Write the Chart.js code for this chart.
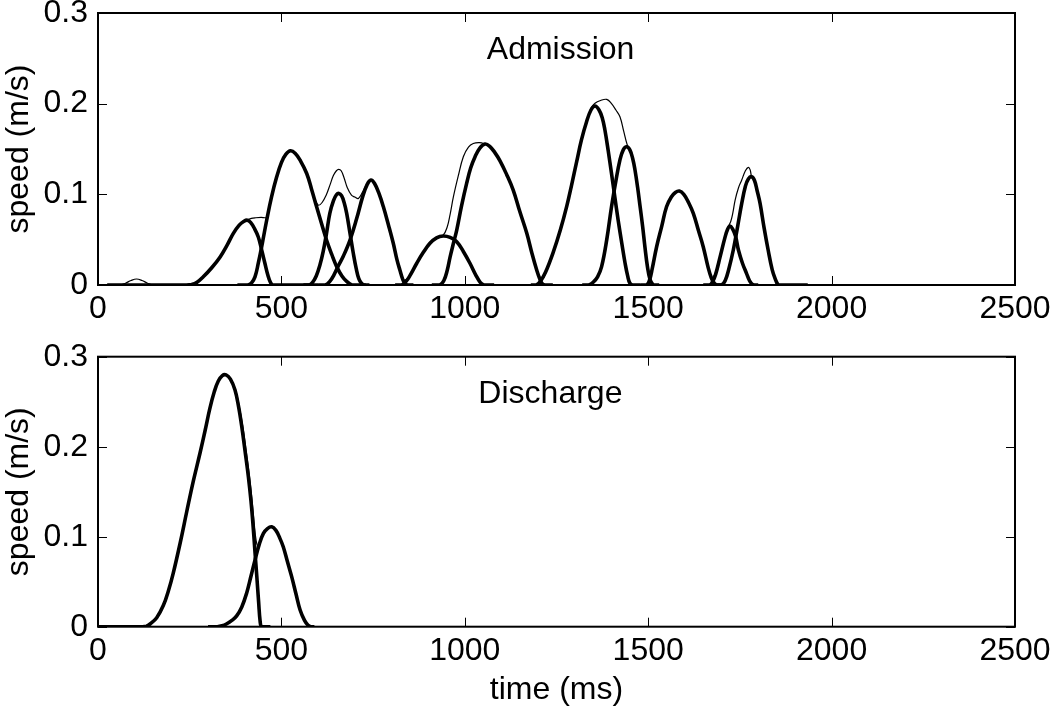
<!DOCTYPE html>
<html>
<head>
<meta charset="utf-8">
<script src="https://cdn.jsdelivr.net/npm/chart.js@4.4.1/dist/chart.umd.min.js"></script>
<style>
  html, body { margin: 0; padding: 0; background: #fff; }
  #wrap { position: relative; width: 1050px; height: 709px; }
  canvas { position: absolute; left: 0; }
  #admission { top: 0; }
  #discharge { top: 330px; }
</style>
</head>
<body>
<div id="wrap">
  <canvas id="admission" width="1050" height="330"></canvas>
  <canvas id="discharge" width="1050" height="379"></canvas>
</div>
<script>
// axis ticks
const timeTicks = [0, 500, 1000, 1500, 2000, 2500];
const speedTicks = [0, 0.1, 0.2, 0.3];

// panel labels and where they sit (ms, m/s)
const panelNames = ["Admission", "Discharge"];
const panelLabelAt = [[1060, 0.249], [1037, 0.249]];

// Admission: measured speed (thin line), [time ms, speed m/s]
const admSpeed = [
  [0, 0], [60, 0], [75, 0.002], [90, 0.005], [105, 0.0066], [120, 0.005], [135, 0.002], [150, 0],
  [255, 0], [270, 0.002], [287, 0.009], [310, 0.019], [333, 0.031], [352, 0.044], [369, 0.057],
  [385, 0.066], [397, 0.070], [407, 0.0718], [418, 0.0735], [430, 0.0742], [445, 0.0745], [455, 0.0742],
  [460, 0.0745], [466, 0.085], [473, 0.097], [487, 0.119], [500, 0.135], [512, 0.144], [525, 0.148],
  [538, 0.145], [552, 0.137], [569, 0.123], [582, 0.106], [592, 0.094], [601, 0.088], [611, 0.091],
  [622, 0.099], [633, 0.111], [642, 0.121], [650, 0.126], [656, 0.1275], [663, 0.126], [671, 0.118],
  [680, 0.107], [691, 0.099], [700, 0.097], [710, 0.0955], [722, 0.103], [734, 0.112], [744, 0.1158],
  [754, 0.112], [766, 0.101], [778, 0.0863], [792, 0.066], [805, 0.046], [815, 0.028], [823, 0.0165],
  [832, 0.006], [840, 0.006], [850, 0.010], [869, 0.024], [887, 0.036], [905, 0.046], [923, 0.052],
  [941, 0.055], [952, 0.064], [960, 0.078], [969, 0.0974], [982, 0.120], [996, 0.1415], [1010, 0.152],
  [1023, 0.156], [1040, 0.157], [1055, 0.1555], [1068, 0.153], [1082, 0.146], [1096, 0.137],
  [1114, 0.122], [1132, 0.1047], [1150, 0.081], [1169, 0.057], [1183, 0.035], [1196, 0.0165],
  [1207, 0.007], [1215, 0.008], [1222, 0.016], [1241, 0.036], [1260, 0.060], [1278, 0.087],
  [1291, 0.110], [1305, 0.136], [1318, 0.160], [1332, 0.180], [1344, 0.195], [1355, 0.2005],
  [1370, 0.2035], [1387, 0.2047], [1400, 0.200], [1412, 0.193], [1423, 0.1856], [1433, 0.170],
  [1443, 0.1544], [1450, 0.149], [1464, 0.1268], [1471, 0.108], [1478, 0.0863], [1485, 0.064],
  [1491, 0.0422], [1497, 0.022], [1502, 0.013], [1506, 0.012], [1511, 0.018], [1523, 0.0422],
  [1537, 0.065], [1550, 0.0863], [1563, 0.097], [1574, 0.102], [1585, 0.1036], [1597, 0.100],
  [1610, 0.091], [1623, 0.079], [1637, 0.060], [1650, 0.0422], [1663, 0.020], [1671, 0.009],
  [1676, 0.008], [1684, 0.014], [1696, 0.031], [1709, 0.052], [1718, 0.064], [1725, 0.070],
  [1731, 0.080], [1737, 0.0937], [1746, 0.107], [1755, 0.1158], [1765, 0.126], [1773, 0.1298],
  [1778, 0.127], [1782, 0.1194], [1790, 0.115], [1797, 0.104], [1805, 0.090], [1816, 0.063],
  [1827, 0.0386], [1838, 0.017], [1846, 0.006], [1853, 0], [1950, 0], [2500, 0]
];

// Admission: fitted submovements (thick lines)
const admA = [[25, 0], [240, 0], [255, 0.0005], [270, 0.003], [287, 0.009], [310, 0.019], [333, 0.031], [352, 0.044], [369, 0.057], [385, 0.066], [397, 0.070], [407, 0.0715], [416, 0.069], [427, 0.062], [437, 0.053], [446, 0.039], [455, 0.024], [463, 0.011], [470, 0.003], [476, 0], [490, 0], [600, 0]];
const admB = [[380, 0], [408, 0], [418, 0.002], [428, 0.009], [437, 0.024], [448, 0.046], [460, 0.0717], [473, 0.097], [487, 0.119], [500, 0.135], [512, 0.144], [525, 0.148], [538, 0.145], [552, 0.137], [569, 0.123], [582, 0.106], [596, 0.0863], [610, 0.067], [623, 0.0496], [637, 0.034], [651, 0.020], [665, 0.010], [678, 0.004], [692, 0], [705, 0], [730, 0]];
const admC = [[560, 0], [575, 0], [585, 0.003], [595, 0.010], [605, 0.022], [614, 0.037], [623, 0.057], [632, 0.079], [642, 0.093], [650, 0.0995], [657, 0.101], [664, 0.0985], [671, 0.091], [678, 0.079], [687, 0.057], [696, 0.035], [704, 0.018], [711, 0.007], [718, 0.002], [725, 0], [740, 0]];
const admD = [[600, 0], [620, 0], [632, 0.004], [643, 0.011], [655, 0.021], [669, 0.032], [687, 0.0496], [705, 0.073], [722, 0.098], [734, 0.111], [744, 0.1158], [754, 0.112], [766, 0.101], [778, 0.0863], [792, 0.066], [805, 0.046], [815, 0.028], [823, 0.0165], [831, 0.006], [838, 0.001], [845, 0], [860, 0]];
const admE = [[810, 0], [828, 0], [840, 0.004], [850, 0.010], [869, 0.024], [887, 0.036], [905, 0.046], [923, 0.052], [941, 0.054], [960, 0.0525], [978, 0.0478], [996, 0.037], [1014, 0.024], [1030, 0.011], [1042, 0.003], [1052, 0], [1065, 0], [1080, 0]];
const admF = [[910, 0], [932, 0], [943, 0.005], [952, 0.016], [960, 0.031], [969, 0.046], [978, 0.0606], [991, 0.087], [1005, 0.112], [1016, 0.129], [1028, 0.1415], [1041, 0.151], [1055, 0.1555], [1068, 0.153], [1082, 0.146], [1096, 0.137], [1114, 0.122], [1132, 0.1047], [1150, 0.081], [1169, 0.057], [1183, 0.035], [1196, 0.0165], [1205, 0.006], [1212, 0.001], [1220, 0], [1240, 0]];
const admG = [[1180, 0], [1195, 0], [1206, 0.004], [1220, 0.014], [1241, 0.036], [1260, 0.060], [1278, 0.087], [1291, 0.110], [1305, 0.136], [1318, 0.160], [1332, 0.180], [1344, 0.193], [1355, 0.1974], [1366, 0.193], [1375, 0.184], [1382, 0.171], [1391, 0.148], [1400, 0.123], [1409, 0.097], [1418, 0.0717], [1428, 0.046], [1437, 0.024], [1444, 0.010], [1450, 0.002], [1457, 0], [1480, 0]];
const admH = [[1320, 0], [1338, 0], [1350, 0.003], [1362, 0.009], [1373, 0.0202], [1387, 0.050], [1400, 0.0863], [1412, 0.115], [1423, 0.138], [1432, 0.149], [1441, 0.1525], [1450, 0.149], [1458, 0.139], [1464, 0.1268], [1471, 0.108], [1478, 0.0863], [1485, 0.064], [1491, 0.0422], [1498, 0.020], [1505, 0.006], [1512, 0.001], [1518, 0], [1530, 0]];
const admI = [[1480, 0], [1496, 0], [1504, 0.006], [1511, 0.018], [1523, 0.0422], [1537, 0.065], [1550, 0.0863], [1563, 0.097], [1574, 0.102], [1585, 0.1036], [1597, 0.100], [1610, 0.091], [1623, 0.079], [1637, 0.060], [1650, 0.0422], [1663, 0.020], [1672, 0.008], [1680, 0.002], [1687, 0], [1700, 0]];
const admJ = [[1650, 0], [1668, 0], [1676, 0.004], [1684, 0.012], [1696, 0.031], [1709, 0.052], [1716, 0.061], [1723, 0.065], [1730, 0.062], [1738, 0.054], [1746, 0.0386], [1757, 0.024], [1768, 0.0129], [1776, 0.005], [1783, 0.001], [1790, 0], [1800, 0]];
const admK = [[1680, 0], [1700, 0], [1710, 0.005], [1720, 0.018], [1732, 0.0386], [1744, 0.065], [1755, 0.090], [1765, 0.109], [1773, 0.117], [1782, 0.1194], [1790, 0.115], [1797, 0.104], [1805, 0.090], [1816, 0.063], [1827, 0.0386], [1838, 0.017], [1846, 0.007], [1853, 0.001], [1860, 0], [1935, 0]];

// Discharge: measured speed (thin line)
const disSpeed = [
  [0, 0], [120, 0], [132, 0.0005], [142, 0.003], [160, 0.010], [178, 0.0235], [192, 0.040], [205, 0.0593], [224, 0.093],
  [242, 0.128], [260, 0.162], [278, 0.1927], [292, 0.218], [305, 0.2425], [317, 0.261], [328, 0.273],
  [339, 0.279], [349, 0.2797], [361, 0.276], [375, 0.263], [386, 0.243], [395, 0.2222], [404, 0.195],
  [413, 0.1667], [420, 0.140], [426, 0.114], [431, 0.096], [436, 0.090], [443, 0.095], [451, 0.1037],
  [462, 0.109], [473.5, 0.111], [485, 0.107], [495, 0.099], [505, 0.0889], [516, 0.073], [528, 0.0556],
  [540, 0.036], [551, 0.0185], [563, 0.007], [572, 0.002], [580, 0], [600, 0], [2500, 0]
];

// Discharge: fitted submovements
const disP = [[0, 0], [120, 0], [132, 0.0005], [142, 0.003], [160, 0.010], [178, 0.0235], [192, 0.040], [205, 0.0593], [224, 0.093], [242, 0.128], [260, 0.162], [278, 0.1927], [292, 0.218], [305, 0.2425], [317, 0.261], [328, 0.273], [339, 0.279], [349, 0.2797], [361, 0.275], [373.5, 0.263], [383, 0.245], [392, 0.2222], [401, 0.195], [410, 0.1667], [417, 0.140], [423, 0.111], [428, 0.083], [433, 0.0556], [438, 0.027], [442, 0.006], [446, 0], [460, 0], [470, 0]];
const disQ = [[300, 0], [325, 0], [338, 0.001], [350, 0.003], [365, 0.007], [378, 0.012], [392, 0.022], [405, 0.037], [417, 0.056], [428, 0.074], [440, 0.092], [451, 0.1037], [462, 0.109], [473.5, 0.111], [485, 0.107], [495, 0.099], [505, 0.0889], [516, 0.073], [528, 0.0556], [540, 0.036], [551, 0.0185], [563, 0.007], [572, 0.002], [580, 0], [590, 0]];

const FONT_FAMILY = "'Liberation Sans', Arial, Helvetica, sans-serif";
const FONT_SIZE = 32;

const toXY = (pts) => pts.map((p) => ({ x: p[0], y: p[1] }));

// box with inward ticks on all four sides, plus the panel label
const matlabBox = (label, at) => ({
  id: "matlabBox",
  afterDatasetsDraw(chart) {
    const { ctx, chartArea: a, scales } = chart;
    ctx.save();
    ctx.strokeStyle = "#000";
    ctx.lineWidth = 1;
    ctx.beginPath();
    scales.x.ticks.forEach((t) => {
      const px = Math.round(scales.x.getPixelForValue(t.value)) + 0.5;
      ctx.moveTo(px, a.bottom); ctx.lineTo(px, a.bottom - 9);
      ctx.moveTo(px, a.top); ctx.lineTo(px, a.top + 9);
    });
    scales.y.ticks.forEach((t) => {
      const py = Math.round(scales.y.getPixelForValue(t.value)) + 0.5;
      ctx.moveTo(a.left, py); ctx.lineTo(a.left + 9, py);
      ctx.moveTo(a.right, py); ctx.lineTo(a.right - 9, py);
    });
    ctx.stroke();
    ctx.lineWidth = 2;
    ctx.strokeRect(a.left, a.top, a.right - a.left, a.bottom - a.top);

    ctx.fillStyle = "#000";
    ctx.font = FONT_SIZE + "px " + FONT_FAMILY;
    ctx.textAlign = "left";
    ctx.textBaseline = "alphabetic";
    ctx.fillText(label, scales.x.getPixelForValue(at[0]), scales.y.getPixelForValue(at[1]));
    ctx.restore();
  }
});

function makePanel(canvasId, label, at, speed, subs, padTop, xHeight, xTitle) {
  const font = { family: FONT_FAMILY, size: FONT_SIZE };
  const datasets = [{ data: toXY(speed), borderWidth: 1.2 }]
    .concat(subs.map((s) => ({ data: toXY(s), borderWidth: 3.6 })));
  datasets.forEach((d) => {
    d.borderColor = "#000";
    d.pointRadius = 0;
    d.fill = false;
    d.tension = 0.4;
    d.borderJoinStyle = "round";
  });

  return new Chart(document.getElementById(canvasId), {
    type: "line",
    data: { datasets: datasets },
    options: {
      responsive: false,
      animation: false,
      devicePixelRatio: 1,
      layout: { padding: { top: padTop, right: 35, left: 0, bottom: 0 } },
      plugins: { legend: { display: false }, tooltip: { enabled: false } },
      scales: {
        x: {
          type: "linear",
          min: 0,
          max: 2500,
          afterBuildTicks: (s) => { s.ticks = timeTicks.map((v) => ({ value: v })); },
          afterFit: (s) => { s.height = xHeight; s.paddingLeft = 0; s.paddingRight = 0; },
          ticks: { font: font, color: "#000", padding: 5, autoSkip: false, maxRotation: 0, callback: (v) => String(v) },
          grid: { display: false, drawTicks: false },
          border: { display: false },
          title: { display: !!xTitle, text: xTitle || "", font: font, color: "#000", padding: { top: 0, bottom: 0 } }
        },
        y: {
          type: "linear",
          min: 0,
          max: 0.3,
          afterBuildTicks: (s) => { s.ticks = speedTicks.map((v) => ({ value: v })); },
          afterFit: (s) => { s.width = 98; s.paddingTop = 0; s.paddingBottom = 0; },
          ticks: { font: font, color: "#000", padding: 10, callback: (v) => String(Math.round(v * 10) / 10) },
          grid: { display: false, drawTicks: false },
          border: { display: false },
          title: { display: true, text: "speed (m/s)", font: font, color: "#000", padding: { top: 0, bottom: 0 } }
        }
      }
    },
    plugins: [matlabBox(label, at)]
  });
}

makePanel("admission", panelNames[0], panelLabelAt[0], admSpeed,
  [admA, admB, admC, admD, admE, admF, admG, admH, admI, admJ, admK], 13, 45, null);

makePanel("discharge", panelNames[1], panelLabelAt[1], disSpeed,
  [disP, disQ], 26.7, 82.3, "time (ms)");
</script>
</body>
</html>
